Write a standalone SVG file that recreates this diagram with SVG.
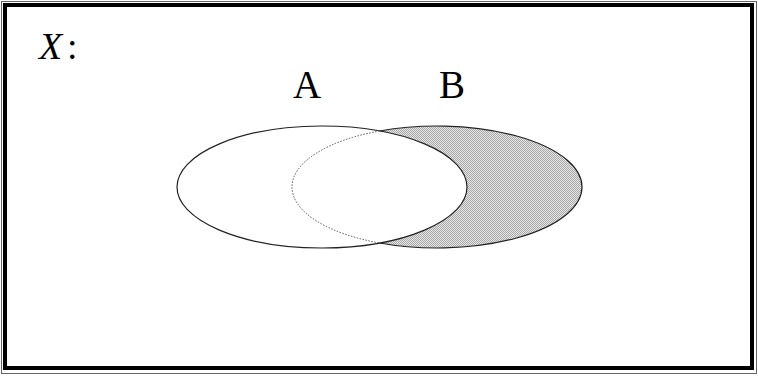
<svg xmlns="http://www.w3.org/2000/svg" width="758" height="376" viewBox="0 0 758 376">
<defs>
<pattern id="hatch" width="2" height="2" patternUnits="userSpaceOnUse">
<rect width="2" height="2" fill="#e6e6e6"/>
<rect width="1" height="1" fill="#a8a8a8"/>
<rect x="1" y="1" width="1" height="1" fill="#a8a8a8"/>
</pattern>
<style>
.lbl{font-family:"Liberation Serif","Times New Roman",serif;fill:#000}
.edge{fill:none;stroke:#222;stroke-width:1.2}
</style>
</defs>
<rect width="758" height="376" fill="#fff"/>
<g id="frame">
<rect x="1.5" y="1.5" width="755" height="372" fill="none" stroke="#666" stroke-width="1"/>
<rect x="5" y="5" width="747" height="363" fill="none" stroke="#000" stroke-width="4"/>
</g>
<g id="label-X">
<text class="lbl" x="39" y="59" font-size="38" font-style="italic">X</text>
<text class="lbl" x="67" y="59" font-size="38">:</text>
</g>
<g id="setB">
<ellipse cx="437" cy="187" rx="145" ry="61" fill="url(#hatch)"/>
</g>
<g id="setA">
<ellipse cx="322" cy="187" rx="145" ry="61" class="edge" style="fill:#fff"/>
</g>
<g id="setB-outline">
<path class="edge" d="M379.5,131 A145,61 0 1,1 379.5,243"/>
<path d="M379.5,131 A145,61 0 0,0 379.5,243" fill="none" stroke="#555" stroke-width="1" stroke-dasharray="1.5,1.5"/>
</g>
<g id="label-A"><text class="lbl" x="293" y="98" font-size="39">A</text></g>
<g id="label-B"><text class="lbl" x="439" y="98" font-size="39">B</text></g>
<g id="connectors"/>
</svg>
